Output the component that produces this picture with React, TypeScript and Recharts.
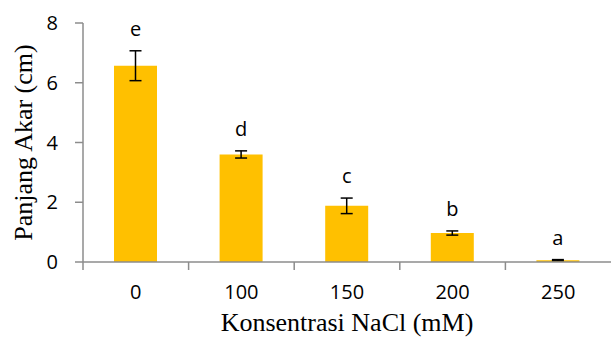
import React from 'react';
import { BarChart, Bar, XAxis, YAxis, ErrorBar, LabelList, Label } from 'recharts';

const categories = ['0', '100', '150', '200', '250'];
const panjangAkar = [6.57, 3.6, 1.88, 0.97, 0.06];
const galat = [0.5, 0.12, 0.26, 0.07, 0.02];
const notasi = ['e', 'd', 'c', 'b', 'a'];
const yTicks = [0, 2, 4, 6, 8];
const yMax = 8;

const data = categories.map((name, i) => ({
  name,
  value: panjangAkar[i],
  err: galat[i],
  letter: notasi[i],
}));

const W = 611;
const H = 338;
const TOP = 23;
const X_AXIS_H = 76;
const PLOT_H = H - TOP - X_AXIS_H;

const AXIS_COLOR = '#8c8c8c';
const SANS = '"Open Sans", "Noto Sans", sans-serif';
const SERIF = '"Liberation Serif", "Times New Roman", serif';

const CategoryTick = (props: any) => {
  const { x, y, payload, width } = props;
  const band = (width || 528) / categories.length;
  const left = x - band / 2;
  return (
    <g>
      <line x1={left} y1={y - 8} x2={left} y2={y} stroke={AXIS_COLOR} strokeWidth={1.5} />
      <text x={x} y={y + 29} textAnchor="middle" fontSize={20} fontFamily={SANS} fill="#000">
        {payload.value}
      </text>
    </g>
  );
};

const LetterLabel = (props: any) => {
  const { x, y, width, index } = props;
  const perUnit = PLOT_H / yMax;
  const errTop = Number(y) - galat[index] * perUnit;
  return (
    <text x={Number(x) + Number(width) / 2} y={errTop - 15} textAnchor="middle" fontSize={20} fontFamily={SANS} fill="#000">
      {notasi[index]}
    </text>
  );
};

const App: React.FC = () => {
  const cy = TOP + PLOT_H / 2;
  return (
    <div style={{ position: 'absolute', left: 0, top: 0, width: W, height: H, background: '#fff' }}>
      <BarChart width={W} height={H} data={data} margin={{ top: TOP, right: 0, bottom: 0, left: 0 }}>
        <XAxis
          dataKey="name"
          height={X_AXIS_H}
          axisLine={{ stroke: AXIS_COLOR, strokeWidth: 1.5 }}
          tickLine={false}
          tick={<CategoryTick />}
          interval={0}
        >
          <Label
            content={(p: any) => (
              <text
                x={p.viewBox.x + p.viewBox.width / 2}
                y={p.viewBox.y + 69}
                textAnchor="middle"
                fontSize={26}
                fontFamily={SERIF}
                fill="#000"
              >
                Konsentrasi NaCl (mM)
              </text>
            )}
          />
        </XAxis>
        <YAxis
          width={83}
          domain={[0, yMax]}
          ticks={yTicks}
          interval={0}
          axisLine={{ stroke: AXIS_COLOR, strokeWidth: 1.5 }}
          tickLine={{ stroke: AXIS_COLOR, strokeWidth: 1.5 }}
          tickSize={8}
          tickMargin={17}
          tick={{ fontSize: 20, fontFamily: SANS, fill: '#000' }}
        >
          <Label
            content={() => (
              <text
                x={23}
                y={cy}
                textAnchor="middle"
                dominantBaseline="central"
                transform={`rotate(-90, 23, ${cy})`}
                fontSize={26}
                fontFamily={SERIF}
                fill="#000"
              >
                Panjang Akar (cm)
              </text>
            )}
          />
        </YAxis>
        <Bar dataKey="value" fill="#FFC000" barSize={43} isAnimationActive={false}>
          <ErrorBar dataKey="err" width={6} stroke="#000" strokeWidth={1.5} direction="y" />
          <LabelList dataKey="value" content={<LetterLabel />} />
        </Bar>
      </BarChart>
    </div>
  );
};

export default App;
